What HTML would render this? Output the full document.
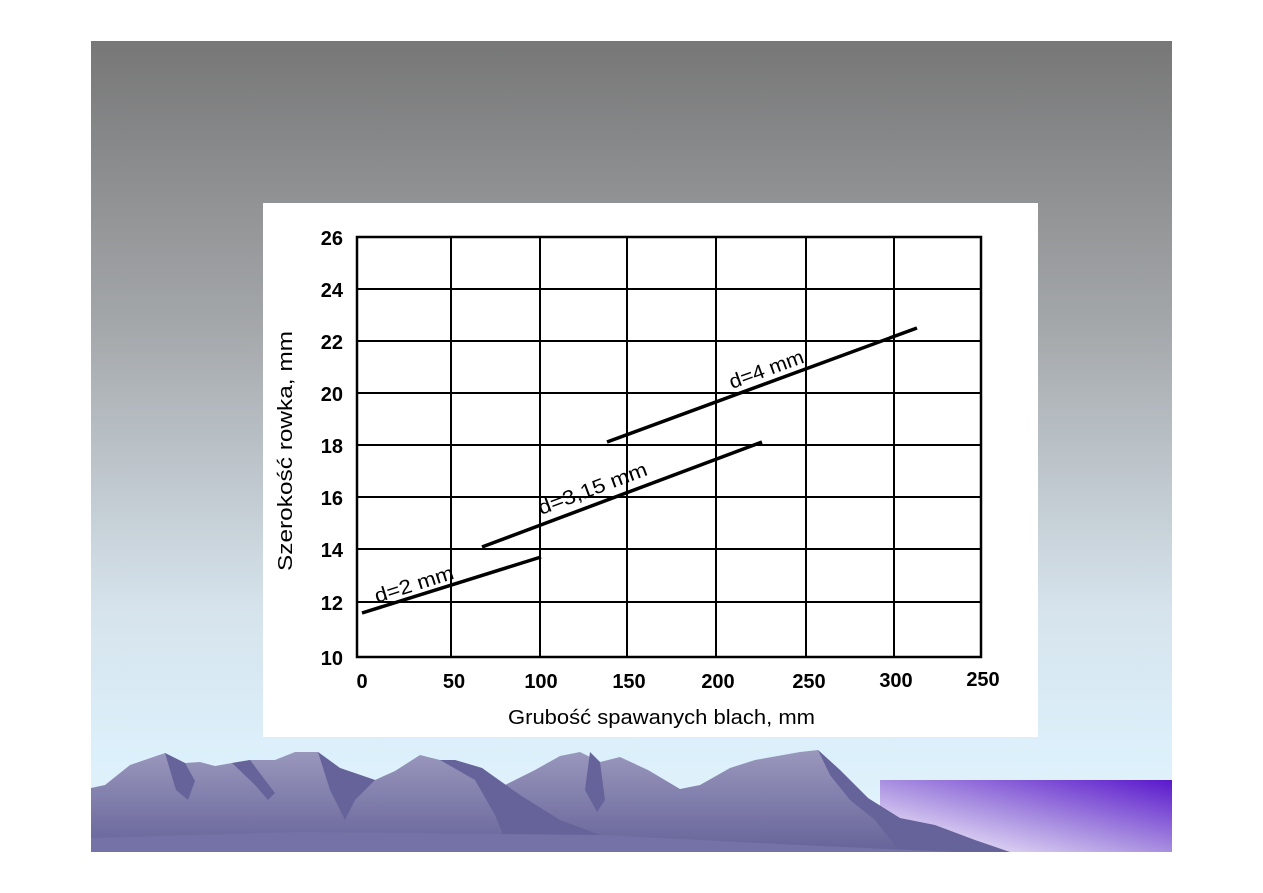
<!DOCTYPE html>
<html><head><meta charset="utf-8"><style>
html,body{margin:0;padding:0;background:#fff;}
svg{display:block;}
text{font-family:"Liberation Sans",Arial,sans-serif;}
</style></head><body>
<svg width="1263" height="893" viewBox="0 0 1263 893" xmlns="http://www.w3.org/2000/svg">
<defs>
<linearGradient id="bg" x1="0" y1="0" x2="0" y2="1">
<stop offset="0" stop-color="#777777"/>
<stop offset="0.35" stop-color="#a4a7aa"/>
<stop offset="0.7" stop-color="#d6e3ec"/>
<stop offset="0.88" stop-color="#dcf0fb"/>
<stop offset="1" stop-color="#e4f4fc"/>
</linearGradient>
<linearGradient id="pur" x1="0" y1="1" x2="1" y2="0">
<stop offset="0" stop-color="#ffffff"/>
<stop offset="0.5" stop-color="#a88ee0"/>
<stop offset="1" stop-color="#5a18cc"/>
</linearGradient>
<linearGradient id="mt" x1="0" y1="0" x2="0" y2="1">
<stop offset="0" stop-color="#9a98bc"/>
<stop offset="1" stop-color="#66639a"/>
</linearGradient>
</defs>
<rect x="91" y="41" width="1081" height="811" fill="url(#bg)"/>
<rect x="880" y="780" width="292" height="72" fill="url(#pur)"/>
<polygon fill="url(#mt)" points="91,788 105,785 130,765 165,753 185,763 200,762 215,766 232,763 250,760 275,760 295,752 318,752 340,768 375,780 395,771 420,755 440,760 455,760 482,768 505,785 535,770 560,756 580,752 600,762 620,757 648,770 680,789 700,785 730,768 755,760 800,752 818,750 840,770 870,800 900,830 930,852 91,852"/>
<polygon fill="#66639a" points="165,753 185,763 195,781 188,800 176,790 170,770"/>
<polygon fill="#66639a" points="232,763 250,760 265,780 275,793 268,800 255,785"/>
<polygon fill="#66639a" points="318,752 340,768 375,780 355,800 345,820 330,790"/>
<polygon fill="#66639a" points="440,760 455,760 482,768 520,795 560,820 600,835 620,852 510,852 495,815 475,780"/>
<polygon fill="#66639a" points="590,752 600,762 605,800 597,812 585,790"/>
<polygon fill="#66639a" points="818,750 840,770 868,798 900,818 935,825 975,840 1010,852 900,852 875,820 850,800 830,775"/>
<polygon fill="#7472a6" points="91,852 91,838 300,832 600,835 800,845 955,852"/>
<rect x="263" y="203" width="775" height="534" fill="#fff"/>
<g stroke="#000" stroke-width="2" fill="none">
<rect x="357" y="237" width="624" height="420" stroke-width="2.5"/>
<line x1="451" y1="237" x2="451" y2="657"/>
<line x1="540" y1="237" x2="540" y2="657"/>
<line x1="627" y1="237" x2="627" y2="657"/>
<line x1="716" y1="237" x2="716" y2="657"/>
<line x1="806" y1="237" x2="806" y2="657"/>
<line x1="894" y1="237" x2="894" y2="657"/>
<line x1="357" y1="289" x2="981" y2="289"/>
<line x1="357" y1="341" x2="981" y2="341"/>
<line x1="357" y1="393" x2="981" y2="393"/>
<line x1="357" y1="445" x2="981" y2="445"/>
<line x1="357" y1="497" x2="981" y2="497"/>
<line x1="357" y1="549" x2="981" y2="549"/>
<line x1="357" y1="602" x2="981" y2="602"/>
</g>
<g stroke="#000" stroke-width="3.5">
<line x1="362" y1="613" x2="541" y2="557"/>
<line x1="482" y1="547" x2="762" y2="442"/>
<line x1="607" y1="442" x2="917" y2="328"/>
</g>
<g font-size="20" font-weight="bold" fill="#000" text-anchor="end">
<text x="343" y="245">26</text>
<text x="343" y="297">24</text>
<text x="343" y="349">22</text>
<text x="343" y="401">20</text>
<text x="343" y="453">18</text>
<text x="343" y="505">16</text>
<text x="343" y="557">14</text>
<text x="343" y="610">12</text>
<text x="343" y="665">10</text>
</g>
<g font-size="20" font-weight="bold" fill="#000" text-anchor="middle">
<text x="362" y="688">0</text>
<text x="454" y="688">50</text>
<text x="541" y="688">100</text>
<text x="629" y="688">150</text>
<text x="718" y="688">200</text>
<text x="809" y="688">250</text>
<text x="896" y="687">300</text>
<text x="983" y="686">250</text>
</g>
<text x="508" y="724" font-size="20" lengthAdjust="spacingAndGlyphs" textLength="307">Grubość spawanych blach, mm</text>
<text transform="translate(292,571) rotate(-90)" font-size="20" lengthAdjust="spacingAndGlyphs" textLength="240">Szerokość rowka, mm</text>
<text transform="translate(377,603) rotate(-17.5)" font-size="20" lengthAdjust="spacingAndGlyphs" textLength="82">d=2 mm</text>
<text transform="translate(541,515) rotate(-20.5)" font-size="20" lengthAdjust="spacingAndGlyphs" textLength="115">d=3,15 mm</text>
<text transform="translate(732,389) rotate(-20)" font-size="20" lengthAdjust="spacingAndGlyphs" textLength="78">d=4 mm</text>
</svg>
</body></html>
